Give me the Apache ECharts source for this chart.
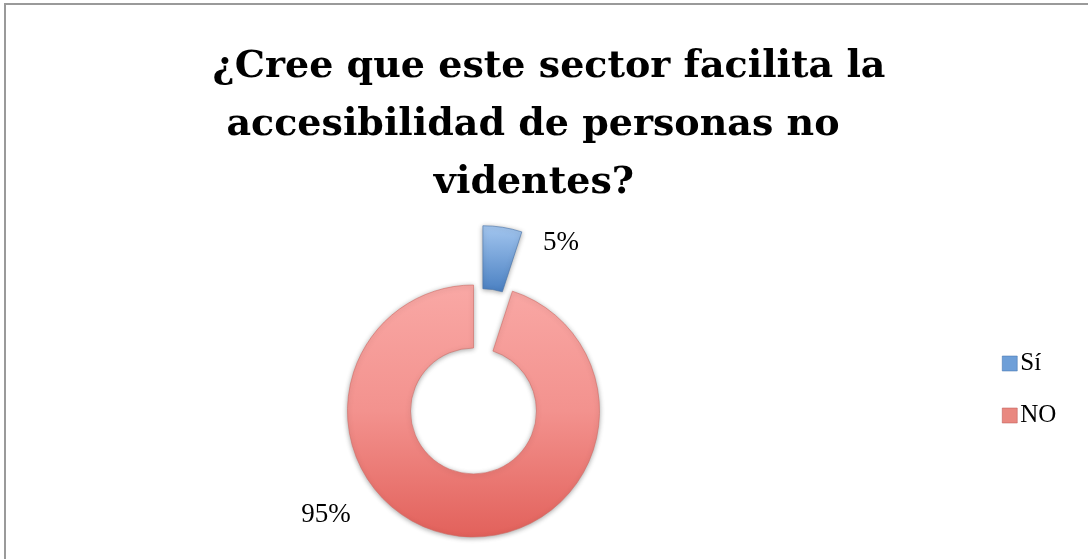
<!DOCTYPE html>
<html>
<head>
<meta charset="utf-8">
<script src="https://cdn.jsdelivr.net/npm/echarts@6/dist/echarts.min.js"></script>
<style>
html,body{margin:0;padding:0;background:#fff;}
#c{width:1088px;height:559px;}
</style>
</head>
<body>
<div id="c"></div>
<script>
const titleLines = ['¿Cree que este sector facilita la', 'accesibilidad de personas no', 'videntes?'];
const categories = ['Sí', 'NO'];
const values = [5, 95];
const labelTexts = ['5%', '95%'];

const chart = echarts.init(document.getElementById('c'), null, {renderer: 'canvas'});

const fills = [
  new echarts.graphic.LinearGradient(0, 0, 0, 1, [
    {offset: 0, color: '#A3C6EF'}, {offset: 1, color: '#4A80C2'}
  ]),
  new echarts.graphic.LinearGradient(0, 0, 0, 1, [
    {offset: 0, color: '#F9A8A5'}, {offset: 0.5, color: '#F3928E'}, {offset: 1, color: '#E2615B'}
  ])
];
const legendColors = ['#6E9FD8', '#E98880'];
const titleCenters = [549, 533, 534];

chart.setOption({
  animation: false,
  backgroundColor: '#fff',
  graphic: [{
    type: 'rect',
    shape: {x: 5, y: 4, width: 1100, height: 600},
    style: {fill: 'none', stroke: '#9A9A9A', lineWidth: 2},
    silent: true
  }],
  title: titleLines.map((t, i) => ({
    text: t,
    left: titleCenters[i],
    top: 38 + i * 58,
    padding: 0,
    textAlign: 'center',
    textStyle: {
      fontFamily: 'DejaVu Serif',
      fontWeight: 'bold',
      fontSize: 38,
      lineHeight: 58,
      color: '#000'
    }
  })),
  legend: {
    orient: 'vertical',
    left: 997,
    top: 346,
    itemWidth: 15,
    itemHeight: 15,
    itemGap: 27,
    icon: 'rect',
    selectedMode: false,
    data: categories.map((c, i) => ({name: c, itemStyle: {color: legendColors[i], borderColor: i === 0 ? '#3F6FA8' : '#B85450', borderWidth: 0.5}})),
    textStyle: {fontFamily: 'Liberation Serif', fontSize: 25, color: '#000', padding: [0, 0, 0, -2]}
  },
  series: [{
    type: 'pie',
    center: [473.5, 411],
    radius: [63, 126],
    startAngle: 90,
    clockwise: true,
    selectedMode: 'single',
    selectedOffset: 60,
    avoidLabelOverlap: false,
    emphasis: {disabled: true},
    labelLine: {show: false},
    label: {
      show: true,
      position: 'outside',
      fontFamily: 'Liberation Serif',
      fontSize: 27,
      color: '#000',
      formatter: p => labelTexts[p.dataIndex]
    },
    labelLayout: function (p) {
      return p.dataIndex === 1
        ? {x: 326, y: 515, align: 'center', verticalAlign: 'middle'}
        : {};
    },
    itemStyle: {
      shadowBlur: 5,
      shadowColor: 'rgba(0,0,0,0.35)',
      shadowOffsetY: 1
    },
    data: categories.map((c, i) => ({
      name: c,
      value: values[i],
      selected: i === 0,
      labelLine: i === 0 ? {show: false, length: -16, length2: 38} : {show: false},
      itemStyle: {color: fills[i], borderColor: i === 0 ? '#4571A8' : '#D26A63', borderWidth: 0.6}
    }))
  }]
});
</script>
</body>
</html>
